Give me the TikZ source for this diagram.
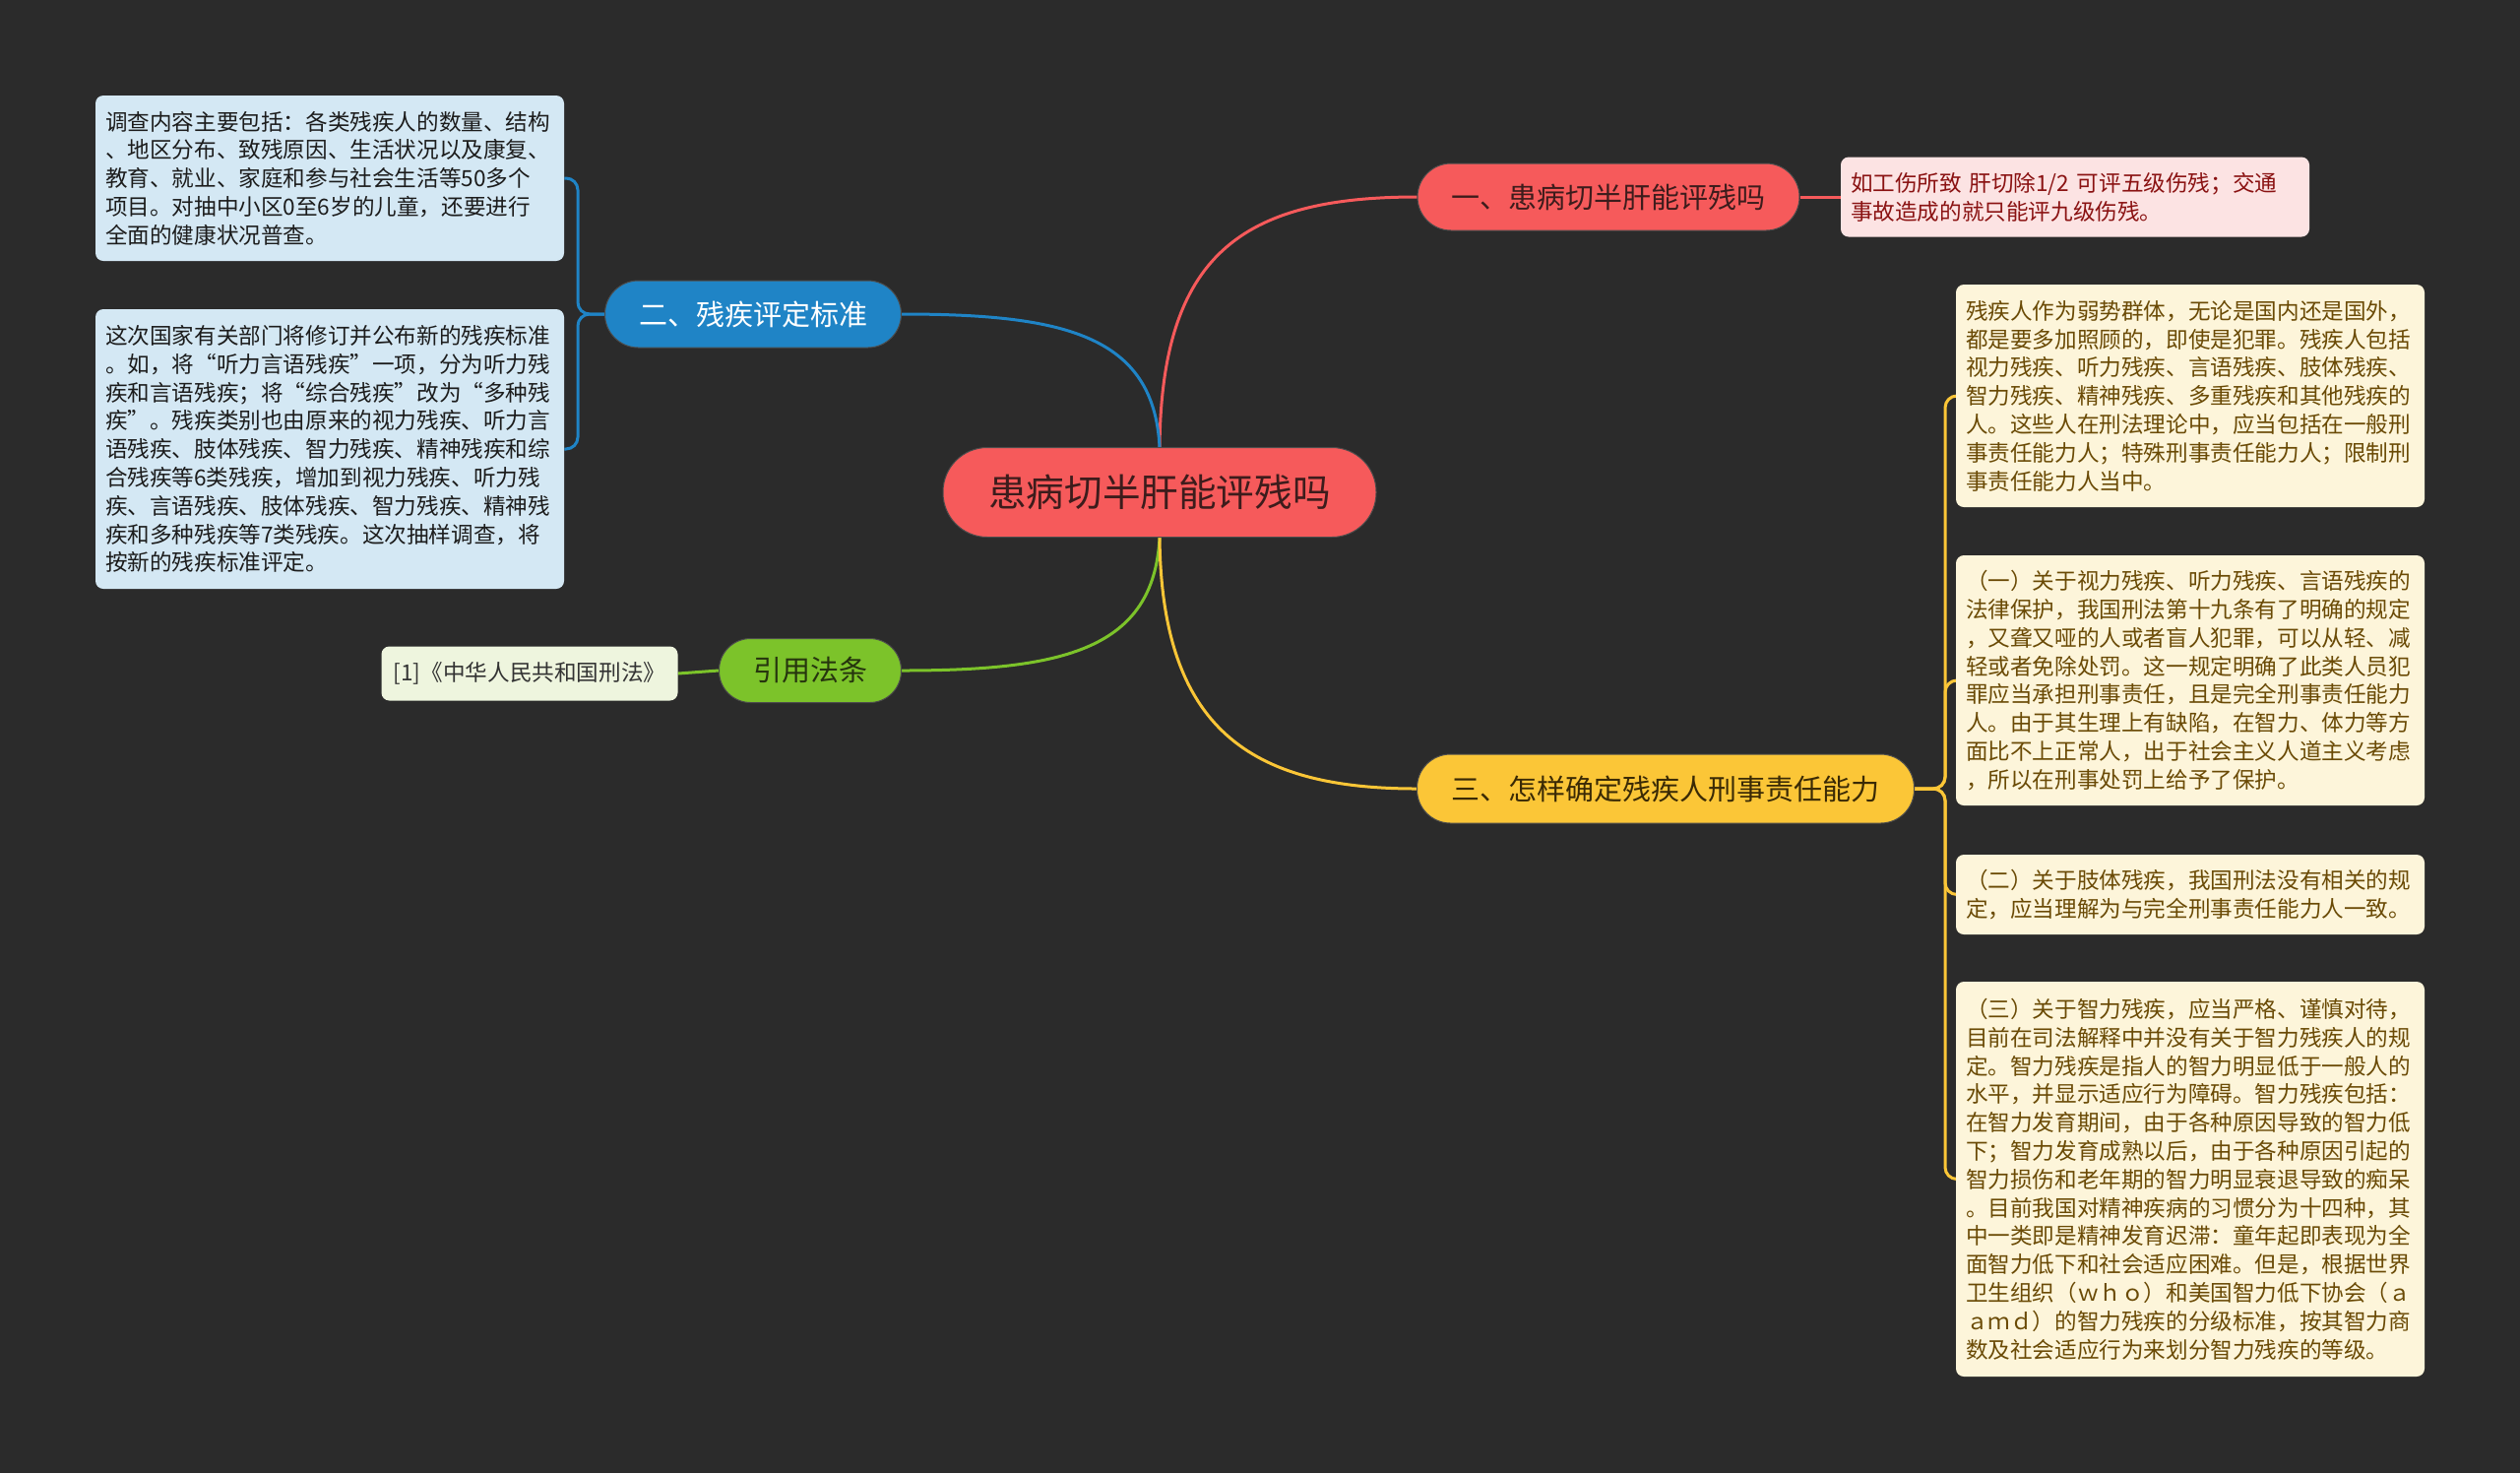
\documentclass[tikz,border=0pt]{standalone}
\usepackage{fontspec}
\setmainfont{Noto Sans CJK SC}
\usetikzlibrary{calc}
\pgfdeclarelayer{bg}
\pgfsetlayers{bg,main}
\definecolor{bgc}{HTML}{2B2B2B}
\definecolor{redc}{HTML}{F65A5B}
\definecolor{redtext}{HTML}{3D1C1C}
\definecolor{pinkfill}{HTML}{FCE3E3}
\definecolor{pinktext}{HTML}{8A1212}
\definecolor{bluec}{HTML}{1F84C6}
\definecolor{bluefill}{HTML}{D4E8F4}
\definecolor{bluetext}{HTML}{1C1C1C}
\definecolor{greenc}{HTML}{7CC32A}
\definecolor{greentext}{HTML}{26350E}
\definecolor{citefill}{HTML}{EEF5DE}
\definecolor{citetext}{HTML}{333333}
\definecolor{yellowc}{HTML}{FBC637}
\definecolor{yellowtext}{HTML}{3A2A05}
\definecolor{yfill}{HTML}{FDF5DA}
\definecolor{ytext}{HTML}{6A4A05}
\begin{document}
\begin{tikzpicture}[x=0.5pt,y=-0.5pt,
  mainnode/.style={rounded corners=17pt, minimum height=34pt, inner sep=0pt,
    font=\fontsize{14.5}{17}\selectfont, draw=black!70, line width=0.5pt},
  rootnode/.style={rounded corners=22.5pt, minimum height=45.5pt, minimum width=220pt,
    inner sep=0pt, fill=redc, text=redtext, draw=black!70, line width=0.5pt,
    font=\fontsize{19.3}{22}\selectfont},
  leaf/.style={rounded corners=4pt, text width=228pt, inner xsep=5pt, inner ysep=0pt,
    align=left, font=\fontsize{11.3}{14.4}\selectfont},
  conn/.style={line width=1.5pt},
]
\useasboundingbox (0,0) rectangle (2560,1496);

% root
\node[rootnode] (root) at (1178,500) {患病切半肝能评残吗};

% branch 1 (red)
\node[mainnode, fill=redc, text=redtext, minimum width=194pt] (n1) at (1634,200) {一、患病切半肝能评残吗};
\node[leaf, fill=pinkfill, text=pinktext, minimum height=40.5pt] (l1) at (2108,200)
  {如工伤所致 肝切除1/2 可评五级伤残；交通\\事故造成的就只能评九级伤残。};

% branch 2 (blue)
\node[mainnode, fill=bluec, text=white, minimum width=150.5pt] (n2) at (765,319) {二、残疾评定标准};
\node[leaf, fill=bluefill, text=bluetext, minimum height=84pt] (b1) at (335,181)
  {调查内容主要包括：各类残疾人的数量、结构\\、地区分布、致残原因、生活状况以及康复、\\教育、就业、家庭和参与社会生活等50多个\\项目。对抽中小区0至6岁的儿童，还要进行\\全面的健康状况普查。};
\node[leaf, fill=bluefill, text=bluetext, minimum height=142pt] (b2) at (335,456)
  {这次国家有关部门将修订并公布新的残疾标准\\。如，将“听力言语残疾”一项，分为听力残\\疾和言语残疾；将“综合残疾”改为“多种残\\疾”。残疾类别也由原来的视力残疾、听力言\\语残疾、肢体残疾、智力残疾、精神残疾和综\\合残疾等6类残疾，增加到视力残疾、听力残\\疾、言语残疾、肢体残疾、智力残疾、精神残\\疾和多种残疾等7类残疾。这次抽样调查，将\\按新的残疾标准评定。};

% branch green
\node[mainnode, fill=greenc, text=greentext, minimum width=92.5pt, minimum height=32.5pt, rounded corners=16pt] (ng) at (823,681) {引用法条};
\node[rounded corners=4pt, fill=citefill, text=citetext, minimum width=150.5pt, minimum height=27.5pt,
  inner sep=0pt, font=\fontsize{11.3}{14.4}\selectfont] (c1) at (538,684) {[1]《中华人民共和国刑法》};

% branch 3 (yellow)
\node[mainnode, fill=yellowc, text=yellowtext, minimum width=252.5pt, minimum height=35pt] (n3) at (1692,801) {三、怎样确定残疾人刑事责任能力};
\node[leaf, fill=yfill, text=ytext, minimum height=113pt] (y1) at (2225,402)
  {残疾人作为弱势群体，无论是国内还是国外，\\都是要多加照顾的，即使是犯罪。残疾人包括\\视力残疾、听力残疾、言语残疾、肢体残疾、\\智力残疾、精神残疾、多重残疾和其他残疾的\\人。这些人在刑法理论中，应当包括在一般刑\\事责任能力人；特殊刑事责任能力人；限制刑\\事责任能力人当中。};
\node[leaf, fill=yfill, text=ytext, minimum height=127pt] (y2) at (2225,691)
  {（一）关于视力残疾、听力残疾、言语残疾的\\法律保护，我国刑法第十九条有了明确的规定\\，又聋又哑的人或者盲人犯罪，可以从轻、减\\轻或者免除处罚。这一规定明确了此类人员犯\\罪应当承担刑事责任，且是完全刑事责任能力\\人。由于其生理上有缺陷，在智力、体力等方\\面比不上正常人，出于社会主义人道主义考虑\\，所以在刑事处罚上给予了保护。};
\node[leaf, fill=yfill, text=ytext, minimum height=40.5pt] (y3) at (2225,908.5)
  {（二）关于肢体残疾，我国刑法没有相关的规\\定，应当理解为与完全刑事责任能力人一致。};
\node[leaf, fill=yfill, text=ytext, minimum height=200.5pt] (y4) at (2225,1197.5)
  {（三）关于智力残疾，应当严格、谨慎对待，\\目前在司法解释中并没有关于智力残疾人的规\\定。智力残疾是指人的智力明显低于一般人的\\水平，并显示适应行为障碍。智力残疾包括：\\在智力发育期间，由于各种原因导致的智力低\\下；智力发育成熟以后，由于各种原因引起的\\智力损伤和老年期的智力明显衰退导致的痴呆\\。目前我国对精神疾病的习惯分为十四种，其\\中一类即是精神发育迟滞：童年起即表现为全\\面智力低下和社会适应困难。但是，根据世界\\卫生组织（ｗｈｏ）和美国智力低下协会（ａ\\ａｍｄ）的智力残疾的分级标准，按其智力商\\数及社会适应行为来划分智力残疾的等级。};

\begin{pgfonlayer}{bg}
\fill[bgc] (0,0) rectangle (2560,1496);
\draw[conn, redc] (root.north) .. controls (1180,260) and (1260,200) .. (n1.west);
\draw[conn, bluec] (root.north) .. controls (1172,340) and (1080,319) .. (n2.east);
\draw[conn, greenc] (root.south) .. controls (1172,660) and (1080,681) .. (ng.east);
\draw[conn, yellowc] (root.south) .. controls (1180,740) and (1270,801) .. (n3.west);
\draw[conn, redc] (n1.east) -- (l1.west);
\draw[conn, greenc] (ng.west) -- (c1.east);
\coordinate (bb) at ($(n2.west)+(-27,0)$);
\coordinate (yb) at ($(n3.east)+(31,0)$);
\foreach \l in {b1,b2}
  \draw[conn, bluec, rounded corners=6pt] (n2.west) -- (bb) |- (\l.east);
\foreach \l in {y1,y2,y3,y4}
  \draw[conn, yellowc, rounded corners=6pt] (n3.east) -- (yb) |- (\l.west);
\end{pgfonlayer}
\end{tikzpicture}
\end{document}
